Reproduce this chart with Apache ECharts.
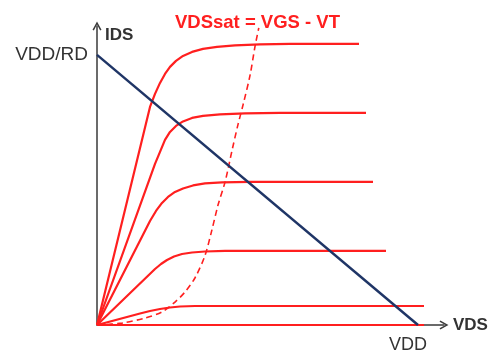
<!DOCTYPE html>
<html>
<head>
<meta charset="utf-8">
<script src="https://cdn.jsdelivr.net/npm/echarts@6/dist/echarts.min.js"></script>
<style>
  html, body { margin: 0; padding: 0; background: #fff; }
  #chart { width: 492px; height: 360px; }
</style>
</head>
<body>
<div id="chart"></div>
<script>
// MOSFET output characteristics: IDS vs VDS for increasing VGS,
// with the saturation boundary and the resistive load line.
// VDS in units where VDD = 10, IDS in units where VDD/RD = 10.

// Output curves, lowest VGS first ([VDS, IDS] pairs)
const cutoffCurve = [[0, 0], [10.19, 0]];
const vgsCurve1 = [[0, 0], [1.340, 0.426], [1.651, 0.519], [1.963, 0.593], [2.274, 0.648], [2.586, 0.685], [3.053, 0.704], [10.187, 0.704]];
const vgsCurve2 = [[0, 0], [1.807, 2.074], [1.994, 2.259], [2.181, 2.407], [2.399, 2.537], [2.648, 2.630], [2.960, 2.685], [3.364, 2.722], [3.988, 2.741], [9.003, 2.741]];
const vgsCurve3 = [[0, 0], [1.651, 3.852], [1.838, 4.222], [2.025, 4.519], [2.212, 4.741], [2.430, 4.926], [2.679, 5.056], [2.991, 5.167], [3.364, 5.241], [3.894, 5.278], [4.766, 5.296], [8.598, 5.296]];
const vgsCurve4 = [[0, 0], [1.807, 5.963], [1.963, 6.407], [2.118, 6.852], [2.274, 7.148], [2.461, 7.370], [2.679, 7.537], [2.960, 7.667], [3.302, 7.741], [3.832, 7.796], [4.611, 7.833], [5.701, 7.852], [8.380, 7.852]];
const vgsCurve5 = [[0, 0], [1.651, 8.074], [1.807, 8.556], [1.963, 8.963], [2.118, 9.296], [2.274, 9.556], [2.461, 9.778], [2.679, 9.963], [2.960, 10.111], [3.302, 10.222], [3.738, 10.296], [4.299, 10.352], [5.078, 10.389], [6.012, 10.407], [8.162, 10.407]];

// Saturation boundary VDSsat = VGS - VT
const satBoundary = [[0, 0], [0.78, 0.07], [1.50, 0.26], [2.02, 0.48], [2.43, 0.85], [2.74, 1.22], [3.05, 1.74], [3.36, 2.56], [3.58, 3.52], [3.77, 4.44], [3.99, 5.30], [4.21, 6.48], [4.39, 7.41], [4.55, 8.15], [4.77, 9.26], [4.92, 10.30], [5.04, 11.0]];

// Load line from (0, VDD/RD) to (VDD, 0)
const loadLine = [[0, 10], [10, 0]];

// Axis marks
const xTickValues = [10];
const xTickLabels = ['VDD'];
const yTickValues = [10];
const yTickLabels = ['VDD/RD'];
const xName = 'VDS';
const yName = 'IDS';
const boundaryLabel = 'VDSsat = VGS - VT';

const FONT = '"Liberation Sans", Arial, sans-serif';
const RED = '#ff1f1f';
const NAVY = '#1f3566';
const AXIS = '#3a3a3a';
const CHEVRON = 'path://M0,9 L5,0 L10,9 L8.5,9.9 L5,3.3 L1.5,9.9 Z';

const curveSeries = [cutoffCurve, vgsCurve1, vgsCurve2, vgsCurve3, vgsCurve4, vgsCurve5].map(function (d) {
  return {
    type: 'line',
    data: d,
    showSymbol: false,
    silent: true,
    lineStyle: { color: RED, width: 2.2, join: 'round' },
    z: 2
  };
});

const chart = echarts.init(document.getElementById('chart'), null, { renderer: 'canvas' });
chart.setOption({
  animation: false,
  backgroundColor: '#fff',
  title: {
    text: boundaryLabel,
    left: 175,
    top: 13,
    padding: 0,
    textStyle: { color: RED, fontSize: 18.5, fontWeight: 'bold', fontFamily: FONT }
  },
  grid: { left: 97, right: 48, top: 26, bottom: 35 },
  xAxis: {
    type: 'value',
    min: 0,
    max: 10.81,
    name: xName,
    nameLocation: 'end',
    nameGap: 9,
    nameTextStyle: {
      color: '#333', fontSize: 17, fontWeight: 'bold', fontFamily: FONT,
      align: 'left', verticalAlign: 'middle', padding: [0, 0, 18, 0]
    },
    axisLine: {
      show: true, onZero: false,
      lineStyle: { color: AXIS, width: 1.5 },
      symbol: ['none', CHEVRON], symbolSize: [9, 9]
    },
    axisTick: { show: false },
    splitLine: { show: false },
    axisLabel: {
      customValues: xTickValues,
      formatter: function (v) { return xTickLabels[xTickValues.indexOf(v)] || ''; },
      color: '#333', fontSize: 18, fontFamily: FONT,
      margin: 11, padding: [0, 20, 0, 0]
    }
  },
  yAxis: {
    type: 'value',
    min: 0,
    max: 11.07,
    name: yName,
    nameLocation: 'end',
    nameGap: -9,
    nameTextStyle: {
      color: '#333', fontSize: 17, fontWeight: 'bold', fontFamily: FONT,
      align: 'left', verticalAlign: 'middle', padding: [0, 0, 0, 8]
    },
    axisLine: {
      show: true, onZero: false,
      lineStyle: { color: AXIS, width: 1.5 },
      symbol: ['none', CHEVRON], symbolSize: [9, 9]
    },
    axisTick: { show: false },
    splitLine: { show: false },
    axisLabel: {
      customValues: yTickValues,
      formatter: function (v) { return yTickLabels[yTickValues.indexOf(v)] || ''; },
      color: '#333', fontSize: 19, fontFamily: FONT,
      margin: 9
    }
  },
  series: curveSeries.concat([
    {
      type: 'line',
      data: satBoundary,
      smooth: 0.3,
      showSymbol: false,
      silent: true,
      lineStyle: { color: RED, width: 1.6, type: [6, 4] },
      z: 3
    },
    {
      type: 'line',
      data: loadLine,
      showSymbol: false,
      silent: true,
      lineStyle: { color: NAVY, width: 2.5 },
      z: 4
    }
  ])
});
</script>
</body>
</html>
